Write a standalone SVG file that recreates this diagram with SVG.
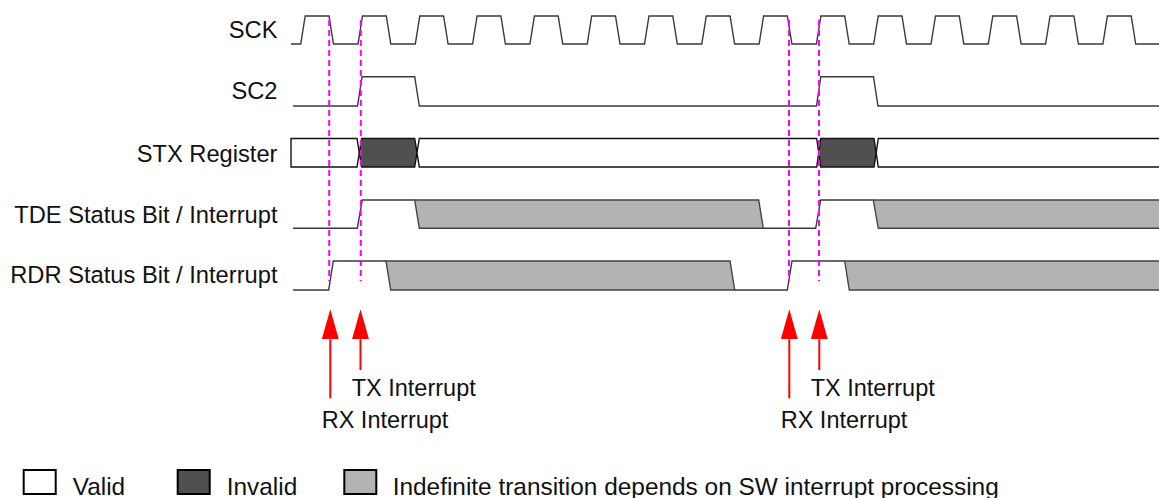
<svg xmlns="http://www.w3.org/2000/svg" width="1159" height="498" viewBox="0 0 1159 498">
<style>
text{font-family:"Liberation Sans",Arial,sans-serif;fill:#111}
.lbl{font-size:23.7px;text-anchor:end}
.ann{font-size:23.5px}
.leg{font-size:24.4px}
.sig{fill:none;stroke:#3a3a3a;stroke-width:1.4;stroke-linejoin:miter}
.bus{stroke:#111;stroke-width:1.4}
.valid{fill:#fff}
.invalid{fill:#505050}
.indef{fill:#b3b3b3;stroke:#444;stroke-width:1.4}
.mark{stroke:#ff00ff;stroke-width:2;stroke-dasharray:6 4;fill:none}
.arr{stroke:#ff0000;stroke-width:2;fill:none;marker-end:url(#ah)}
.lbox{stroke:#000;stroke-width:2}
</style>
<defs>
<marker id="ah" markerUnits="userSpaceOnUse" viewBox="0 0 30 17" refX="0" refY="8.5" markerWidth="30" markerHeight="17" orient="auto">
<path d="M0,0 L30,8.5 L0,17 Z" fill="#ff0000"/>
</marker>
</defs>
<rect width="1159" height="498" fill="#fff"/>

<g id="sck">
<text class="lbl" x="277.5" y="38.3">SCK</text>
<path class="sig" d="M291,44 L300.7,44 L305.2,16 L329,16 L333.5,44 L358,44 L362.5,16 L386.3,16 L390.8,44 L415.3,44 L419.8,16 L443.6,16 L448.1,44 L472.6,44 L477.1,16 L500.9,16 L505.4,44 L529.9,44 L534.4,16 L558.2,16 L562.7,44 L587.2,44 L591.7,16 L615.5,16 L620,44 L644.5,44 L649,16 L672.8,16 L677.3,44 L701.8,44 L706.3,16 L730.1,16 L734.6,44 L759.1,44 L763.6,16 L787.4,16 L791.9,44 L816.4,44 L820.9,16 L844.7,16 L849.2,44 L873.7,44 L878.2,16 L902,16 L906.5,44 L931,44 L935.5,16 L959.3,16 L963.8,44 L988.3,44 L992.8,16 L1016.6,16 L1021.1,44 L1045.6,44 L1050.1,16 L1073.9,16 L1078.4,44 L1102.9,44 L1107.4,16 L1131.2,16 L1135.7,44 L1160,44"/>
</g>

<g id="sc2">
<text class="lbl" x="277.5" y="99">SC2</text>
<path class="sig" d="M293,106 L357.5,106 L362,76.7 L414.7,76.7 L419.3,106 L816.5,106 L820.8,76.7 L873.5,76.7 L878,106 L1160,106"/>
</g>

<g id="stx">
<text class="lbl" x="277.5" y="162.3">STX Register</text>
<path class="bus valid" d="M291,138.5 L357,138.5 L359.3,152.75 L357,167 L291,167 Z"/>
<path class="bus invalid" d="M361.7,138.5 L414.7,138.5 L417,152.75 L414.7,167 L361.7,167 L359.3,152.75 Z"/>
<path class="bus valid" d="M419.3,138.5 L816.7,138.5 L818.7,152.75 L816.7,167 L419.3,167 L417,152.75 Z"/>
<path class="bus invalid" d="M820.7,138.5 L874,138.5 L876.2,152.75 L874,167 L820.7,167 L818.7,152.75 Z"/>
<path class="bus valid" d="M878.3,138.5 L1162,138.5 L1162,167 L878.3,167 L876.2,152.75 Z"/>
</g>

<g id="tde">
<text class="lbl" x="277.5" y="223.3">TDE Status Bit / Interrupt</text>
<path class="sig" d="M293,228.3 L357.3,228.3 L362.3,200 L414.7,200"/>
<path class="indef" d="M414.7,200 L758.7,200 L763.3,228.3 L419.3,228.3 Z"/>
<path class="sig" d="M763.3,228.3 L815.7,228.3 L820.7,200 L873.3,200"/>
<path class="indef" d="M873.3,200 L1162,200 L1162,228.3 L878.3,228.3 Z"/>
</g>

<g id="rdr">
<text class="lbl" x="277.5" y="283.3">RDR Status Bit / Interrupt</text>
<path class="sig" d="M293,290 L328.7,290 L333.3,261 L386,261"/>
<path class="indef" d="M386,261 L730,261 L734.7,290 L390.7,290 Z"/>
<path class="sig" d="M734.7,290 L787.3,290 L792,261 L844.7,261"/>
<path class="indef" d="M844.7,261 L1162,261 L1162,290 L849.3,290 Z"/>
</g>

<g id="connectors">
<line class="mark" x1="329.2" y1="20" x2="329.2" y2="281"/>
<line class="mark" x1="360.8" y1="20" x2="360.8" y2="281"/>
<line class="mark" x1="789" y1="20" x2="789" y2="281"/>
<line class="mark" x1="819" y1="20" x2="819" y2="281"/>
<line class="arr" x1="330.3" y1="398.3" x2="330.3" y2="339.3"/>
<line class="arr" x1="360.5" y1="370" x2="360.5" y2="339.3"/>
<line class="arr" x1="789.3" y1="398.3" x2="789.3" y2="339.3"/>
<line class="arr" x1="819.3" y1="370" x2="819.3" y2="339.3"/>
</g>

<g id="annotations">
<text class="ann" x="351.7" y="396">TX Interrupt</text>
<text class="ann" x="321.7" y="428.3">RX Interrupt</text>
<text class="ann" x="810.7" y="396">TX Interrupt</text>
<text class="ann" x="780.7" y="428.3">RX Interrupt</text>
</g>

<g id="legend">
<rect class="lbox valid" x="23.7" y="470" width="32" height="24"/>
<text class="leg" x="72.7" y="495">Valid</text>
<rect class="lbox invalid" x="177.7" y="470" width="32" height="24"/>
<text class="leg" x="226.7" y="495">Invalid</text>
<rect class="lbox" x="344.3" y="470" width="32" height="24" fill="#b3b3b3"/>
<text class="leg" x="392.7" y="495">Indefinite transition depends on SW interrupt processing</text>
</g>
</svg>
